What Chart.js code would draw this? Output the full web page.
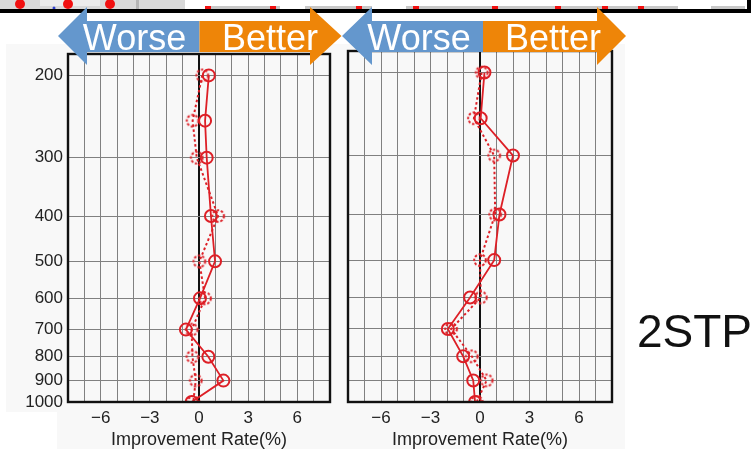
<!DOCTYPE html>
<html>
<head>
<meta charset="utf-8" />
<title>Improvement Rate 2STP</title>
<style>
  html, body { margin: 0; padding: 0; width: 756px; height: 449px; overflow: hidden; background: #fff; }
  .bg { position: absolute; background: #f8f8f8; }
  canvas { position: absolute; top: 0; }
  #overlay { position: absolute; left: 0; top: 0; }
</style>
</head>
<body>
<div class="bg" style="left:6px;top:44px;width:334px;height:368px"></div>
<div class="bg" style="left:57px;top:412px;width:283px;height:37px"></div>
<div class="bg" style="left:340px;top:44px;width:285px;height:405px"></div>
<canvas id="left" width="340" height="449" style="left:0"></canvas>
<canvas id="right" width="290" height="449" style="left:340px"></canvas>

<svg id="overlay" width="756" height="449" font-family="Liberation Sans, Arial, sans-serif">
  <!-- cut-off strip of the slide above -->
  <rect x="0" y="0" width="185" height="9" fill="#d9d9d9"/>
  <rect x="40" y="0" width="60" height="6" fill="#ececec"/>
  <rect x="136" y="0" width="3" height="9" fill="#b5b5b5"/>
  <circle cx="20" cy="4" r="5" fill="#f01010"/>
  <circle cx="68" cy="4" r="5" fill="#f01010"/>
  <circle cx="110" cy="4" r="5" fill="#f01010"/>
  <circle cx="54" cy="8" r="1.5" fill="#3040d0"/>
  <rect x="205" y="6" width="75" height="3" fill="#c8c8c8"/>
  <rect x="305" y="6" width="67" height="3" fill="#c8c8c8"/>
  <rect x="406" y="6" width="272" height="3" fill="#c8c8c8"/>
  <rect x="711" y="6" width="34" height="3" fill="#c8c8c8"/>
  <g fill="#f01010">
    <rect x="205" y="6" width="6" height="3"/><rect x="270" y="6" width="6" height="3"/>
    <rect x="356" y="6" width="6" height="3"/><rect x="413" y="6" width="6" height="3"/>
    <rect x="492" y="6" width="6" height="3"/><rect x="555" y="6" width="6" height="3"/>
    <rect x="602" y="6" width="6" height="3"/><rect x="638" y="6" width="6" height="3"/>
  </g>
  <rect x="0" y="9" width="751" height="4" fill="#000"/>
  <rect x="747" y="0" width="4" height="13" fill="#000"/>

  <!-- Worse / Better arrows -->
  <polygon fill="#6497cd" points="58,36 87,7 87,21 199.5,21 199.5,52 87,52 87,65"/>
  <polygon fill="#ee8508" points="199.5,21 310,21 310,7 341.5,36 310,65 310,52 199.5,52"/>
  <polygon fill="#6497cd" points="342,36 372,7 372,21 483,21 483,52 372,52 372,65"/>
  <polygon fill="#ee8508" points="483,21 597,21 597,7 626,36 597,65 597,52 483,52"/>
  <g fill="#fff" font-size="36" text-anchor="middle">
    <text x="134.5" y="50">Worse</text>
    <text x="270" y="50">Better</text>
    <text x="419" y="50">Worse</text>
    <text x="553" y="50">Better</text>
  </g>
  <text x="637" y="347" font-size="46" fill="#111">2STP</text>
</svg>

<script src="https://cdn.jsdelivr.net/npm/chart.js@4"></script>
<script>
const levels = [200, 250, 300, 400, 500, 600, 700, 800, 900, 1000];
const levelTicks = [200, 300, 400, 500, 600, 700, 800, 900, 1000];
const xTickLabels = [-6, -3, 0, 3, 6];

// left panel
const leftSolid  = [0.6, 0.37, 0.47, 0.73, 0.98, 0.06, -0.8, 0.57, 1.49, -0.45];
const leftDashed = [0.2, -0.39, -0.14, 1.17, 0.02, 0.37, -0.45, -0.4, -0.2, -0.35];
// right panel
const rightSolid  = [0.27, 0.04, 2.0, 1.18, 0.86, -0.6, -1.95, -1.02, -0.41, -0.3];
const rightDashed = [0.1, -0.37, 0.86, 0.92, 0.0, 0.05, -1.75, -0.5, 0.4, -0.2];

const red = '#dd1f26';
const font = 'Liberation Sans, Arial, sans-serif';

// dashed ring used as point marker
const ring = document.createElement('canvas');
ring.width = 16; ring.height = 16;
(() => {
  const c = ring.getContext('2d');
  c.strokeStyle = red;
  c.lineWidth = 2;
  c.setLineDash([2.4, 1.8]);
  c.beginPath();
  c.arc(8, 8, 5.8, 0, Math.PI * 2);
  c.stroke();
})();

const toPoints = (xs) => xs.map((x, i) => ({ x: x, y: levels[i] }));

const framePlugin = {
  id: 'frame',
  afterDatasetsDraw(chart) {
    const { ctx, chartArea: a } = chart;
    ctx.save();
    ctx.strokeStyle = '#111';
    ctx.lineWidth = 2.4;
    ctx.strokeRect(a.left, a.top, a.right - a.left, a.bottom - a.top);
    ctx.restore();
  }
};

function makeChart(id, solid, dashed, opts) {
  return new Chart(id, {
    type: 'scatter',
    data: {
      datasets: [
        {
          data: toPoints(dashed),
          showLine: true,
          borderColor: red,
          borderWidth: 2,
          borderDash: [2.5, 2.5],
          pointStyle: ring,
          pointRadius: 6,
          clip: 0
        },
        {
          data: toPoints(solid),
          showLine: true,
          borderColor: red,
          borderWidth: 1.8,
          pointStyle: 'circle',
          pointRadius: 6,
          pointBorderWidth: 2,
          pointBorderColor: red,
          pointBackgroundColor: 'rgba(0,0,0,0)',
          clip: 0
        }
      ]
    },
    options: {
      responsive: false,
      animation: false,
      layout: { padding: opts.padding },
      plugins: { legend: { display: false }, tooltip: { enabled: false } },
      scales: {
        x: {
          type: 'linear',
          min: -8,
          max: 8,
          afterFit: (s) => { s.height = 47; },
          border: { display: false },
          grid: {
            drawTicks: false,
            color: (c) => (c.tick && c.tick.value === 0 ? '#111' : '#808080'),
            lineWidth: (c) => (c.tick && c.tick.value === 0 ? 2 : 1)
          },
          ticks: {
            stepSize: 1,
            autoSkip: false,
            maxRotation: 0,
            padding: 6,
            color: '#222',
            font: { family: font, size: 17 },
            callback: (v) => (xTickLabels.includes(v) ? (v < 0 ? '\u2212' + (-v) : String(v)) : '')
          },
          title: {
            display: true,
            text: 'Improvement Rate(%)',
            color: '#222',
            font: { family: font, size: 18, lineHeight: 1 },
            padding: 0
          }
        },
        y: {
          type: 'logarithmic',
          min: 180,
          max: 1000,
          reverse: true,
          afterBuildTicks: (s) => { s.ticks = levelTicks.map((v) => ({ value: v })); },
          afterFit: (s) => { s.width = opts.yWidth; },
          border: { display: false },
          grid: { drawTicks: false, color: '#808080', lineWidth: 1 },
          ticks: {
            display: opts.yLabels,
            padding: 5,
            color: '#222',
            font: { family: font, size: 17 },
            callback: (v) => String(v)
          }
        }
      }
    },
    plugins: [framePlugin]
  });
}

makeChart('left', leftSolid, leftDashed, {
  padding: { top: 54, right: 10, left: 0, bottom: 0 },
  yWidth: 68,
  yLabels: true
});
makeChart('right', rightSolid, rightDashed, {
  padding: { top: 51, right: 18, left: 0, bottom: 0 },
  yWidth: 8,
  yLabels: false
});
</script>
</body>
</html>
